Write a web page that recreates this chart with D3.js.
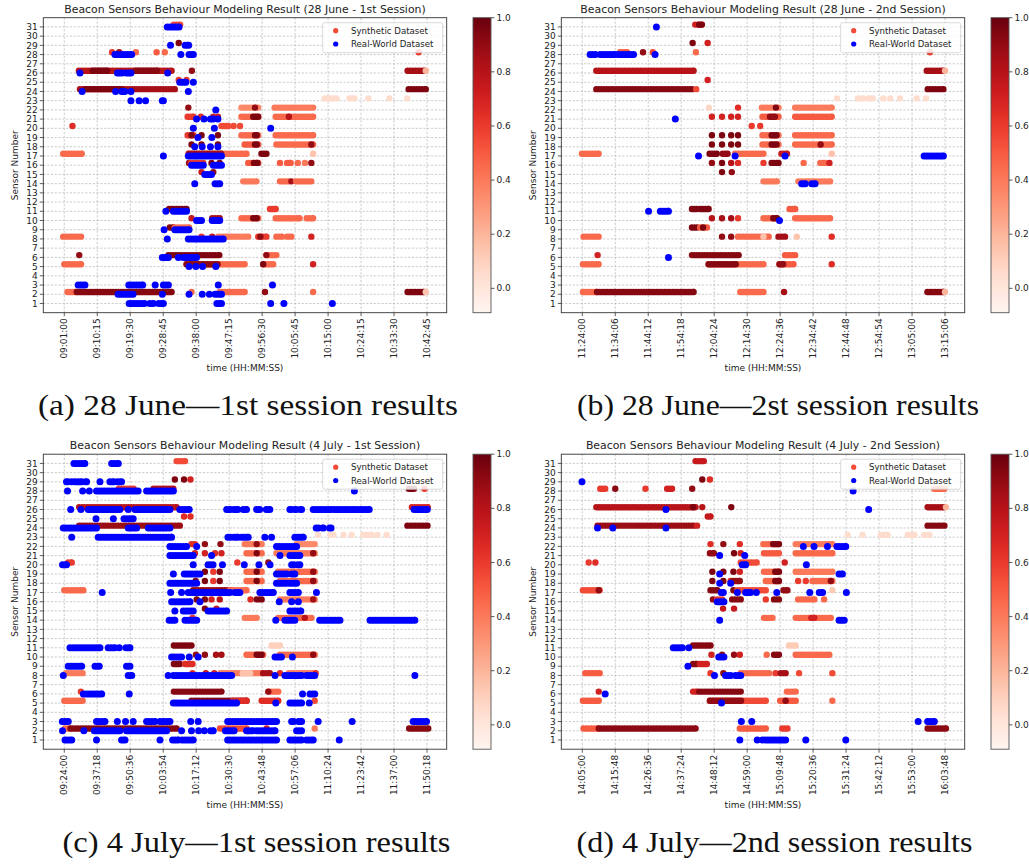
<!DOCTYPE html>
<html>
<head>
<meta charset="utf-8">
<script src="https://cdn.jsdelivr.net/npm/d3@7"></script>
<style>
  body { margin: 0; background: #fff; }
  svg { display: block; }
  text { font-family: "DejaVu Sans", sans-serif; fill: #222; }
  .cap { font-family: "Liberation Serif", "DejaVu Serif", serif; fill: #111; }
</style>
</head>
<body>
<svg id="fig" width="1029" height="865"></svg>
<script>
// ---- data: [sensor, from, to, value] in minutes after the first tick (synthetic)
// ----       [sensor, from, to] for the real-world points
const sensorTicks = [1,2,3,4,5,6,7,8,9,10,11,12,13,14,15,16,17,18,19,20,21,22,23,24,25,26,27,28,29,30,31];
const cbTicks = [0.0, 0.2, 0.4, 0.6, 0.8, 1.0];

const aTicks = ["09:01:00","09:10:15","09:19:30","09:28:45","09:38:00","09:47:15","09:56:30","10:05:45","10:15:00","10:24:15","10:33:30","10:42:45"];
const bTicks = ["11:24:00","11:34:06","11:44:12","11:54:18","12:04:24","12:14:30","12:24:36","12:34:42","12:44:48","12:54:54","13:05:00","13:15:06"];
const cTicks = ["09:24:00","09:37:18","09:50:36","10:03:54","10:17:12","10:30:30","10:43:48","10:57:06","11:10:24","11:23:42","11:37:00","11:50:18"];
const dTicks = ["14:05:00","14:15:48","14:26:36","14:37:24","14:48:12","14:59:00","15:09:48","15:20:36","15:31:24","15:42:12","15:53:00","16:03:48"];

const aSyn = [
  [31,30.7,32.5,0.55],[29,32.1,32.1,0.95],
  [28,13.4,13.4,0.6],[28,15.4,15.4,0.85],[28,20.1,20.1,0.45],[28,25.9,25.9,0.5],[28,28.2,28.2,0.45],[28,99.4,99.4,0.6],
  [26,4.1,30.1,0.8],[26,8,12,0.95],[26,20,26,0.92],[26,35.8,35.8,0.9],[26,96.3,101,0.85],[26,101.4,101.4,0.2],
  [25,32.1,32.1,0.6],[25,34.3,34.3,0.6],
  [24,4.4,31,0.85],[24,6,16,0.95],[24,96.6,101.4,0.95],
  [23,73,76.4,0.05],[23,80,81.4,0.05],[23,85.3,85.3,0.05],[23,91.2,91.2,0.05],[23,96.2,96.2,0.05],
  [22,34.8,34.8,0.9],[22,49.7,54.4,0.35],[22,53.5,53.5,0.9],[22,59,69.8,0.4],
  [21,34.6,36.2,0.6],[21,38.3,38.3,0.65],[21,41.8,41.8,0.7],[21,43.1,43.1,0.7],[21,49.7,54.4,0.45],[21,53,54.4,0.95],[21,59.3,69.8,0.45],[21,63,63,0.8],
  [20,2.3,2.3,0.65],[20,44.1,46,0.55],[20,47.5,47.5,0.55],[20,49.3,49.3,0.55],
  [19,34.6,36.2,0.6],[19,35.7,35.7,0.95],[19,38.5,38.5,0.95],[19,43.1,43.1,0.95],[19,49.7,54.4,0.45],[19,53.5,54,0.95],[19,59.3,69.8,0.45],
  [18,35.7,35.7,0.95],[18,38.5,38.5,0.95],[18,43.1,43.1,0.95],[18,50.6,54.4,0.5],[18,53.5,54,0.95],[18,59.5,69.8,0.45],[18,69.3,69.3,0.9],
  [17,-0.3,4.9,0.45],[17,34.8,51.1,0.45],[17,35,44,0.85],[17,55.3,56.7,0.95],[17,69.8,69.8,0.15],
  [16,35,35,0.9],[16,35.5,39,0.6],[16,41.3,41.3,0.95],[16,43.6,43.6,0.95],[16,51.6,54.4,0.5],[16,53.2,54.2,0.95],[16,60.5,60.5,0.5],[16,62.5,63.5,0.5],[16,65.5,65.5,0.45],[16,67.5,67.5,0.4],[16,69.3,69.3,0.9],
  [15,38.5,38.5,0.75],[15,41.8,41.8,0.9],
  [14,50.2,53.9,0.4],[14,60.5,63,0.45],[14,63.7,63.7,0.85],[14,65,69.3,0.45],
  [11,29.4,34.3,0.95],[11,57.7,59.3,0.6],
  [10,35.7,35.7,0.75],[10,41.5,43.6,0.85],[10,49.7,54.4,0.45],[10,53,54,0.95],[10,59.3,66,0.45],[10,68,69.8,0.45],
  [9,29.6,30.6,0.95],[9,31,35,0.45],
  [8,-0.3,4.7,0.45],[8,38.5,38.5,0.6],[8,41.5,41.5,0.75],[8,43.2,51.6,0.4],[8,54.4,56.7,0.6],[8,55,55,0.9],[8,59.5,61,0.45],[8,62.5,63.7,0.45],[8,69.3,69.3,0.7],
  [6,4.2,4.2,0.9],[6,29.2,43.5,0.95],[6,56.7,59.5,0.45],[6,56.7,56.7,0.9],
  [5,0,4.7,0.45],[5,34.3,50.6,0.45],[5,34.3,43,0.92],[5,55.8,58.6,0.45],[5,55.8,55.8,0.95],[5,69.8,69.8,0.7],
  [2,0.9,3.3,0.45],[2,3.5,30.1,0.93],[2,35.7,35.7,0.45],[2,43.6,50.6,0.45],[2,56.3,56.3,0.9],[2,69.8,69.8,0.45],[2,96.3,101,0.95],[2,101.4,101.4,0.15]
];
const aReal = [
  [31,28.9,32.2],[29,29.8,29.8],[29,33.9,34.9],
  [28,14.2,18.9],[28,32.7,32.7],[28,35,36.2],
  [26,4.4,4.4],[26,14.9,16.2],[26,17.4,18.7],[26,29,29],
  [25,32.4,34.1],[25,36.2,36.2],
  [24,5,5],[24,14.4,14.4],[24,16.1,17],[24,18.7,18.7],[24,34.8,34.8],
  [23,18.7,18.7],[23,21,21],[23,22.8,22.8],[23,27.5,27.8],
  [22,42.5,42.5],[21,37.1,37.1],[21,39.2,39.2],[21,41,41.8],[21,43.1,43.1],
  [20,36.2,36.2],[20,42.1,42.1],[20,57.9,57.9],
  [19,37.5,37.5],[19,41.4,41.4],
  [18,36.6,36.6],[18,38.7,38.7],[18,41,41],[18,43.1,43.1],
  [17,27.8,27.8],[17,34.8,44.1],
  [16,35.7,39],[16,41.8,44.1],[15,39.4,41.3],[14,36.6,36.6],[14,42.3,43.6],
  [11,28.5,28.5],[11,30.6,34.3],[10,37.1,38.5],[10,41.5,43.6],
  [9,28,28],[9,31,35],[8,28.9,28.9],[8,34.8,44.6],
  [6,27.5,29.2],[6,32,32],[6,33.4,37.1],
  [5,35,35],[5,36.9,36.9],[5,38.8,38.8],[5,42.5,42.5],
  [3,3.9,5.8],[3,18.1,22],[3,25.5,25.5],[3,27.8,29.2],[3,43.2,43.2],[3,58.4,58.4],
  [2,15.1,19.3],[2,27.5,27.5],[2,35,35],[2,38.7,38.7],[2,40.7,40.7],[2,42.3,44.1],
  [1,18.2,22.5],[1,24,25],[1,26.5,27.8],[1,42.8,44.1],[1,57.9,57.9],[1,61.6,61.6],[1,75.2,75.2]
];

const bSyn = [
  [31,34.6,36.6,0.7],[31,35.8,36.6,0.95],[29,33.8,33.8,0.95],[29,38.4,38.4,0.7],
  [28,11.6,13.7,0.5],[28,18.6,18.6,0.9],[28,21.6,21.6,0.55],[28,34.8,34.8,0.45],[28,106.5,106.5,0.6],
  [26,4.3,34.1,0.8],[26,105.5,110.6,0.85],[26,111.1,111.1,0.2],
  [25,38.4,38.4,0.7],
  [24,4.3,33.6,0.93],[24,34.9,34.9,0.55],[24,105.8,110.6,0.95],
  [23,78,78,0.05],[23,84.5,86,0.05],[23,87.5,89,0.05],[23,92.2,92.2,0.05],[23,94.3,94.3,0.05],[23,97.3,97.3,0.05],[23,102.4,102.4,0.05],[23,105.3,105.3,0.05],
  [22,38.8,38.8,0.08],[22,47.7,47.7,0.65],[22,55,60.1,0.4],[22,59.3,59.3,0.95],[22,65.2,76.4,0.4],
  [21,39.7,39.7,0.7],[21,42.8,42.8,0.7],[21,45.6,45.6,0.7],[21,47.7,47.7,0.7],[21,55.2,60.1,0.5],[21,57.5,59,0.9],[21,65.2,76.4,0.5],
  [20,51.9,51.9,0.6],[20,54.5,54.5,0.6],
  [19,39.7,39.7,0.95],[19,42.8,42.8,0.95],[19,45.6,45.6,0.95],[19,47.7,47.7,0.95],[19,55.2,60.1,0.45],[19,58,59.5,0.95],[19,65.2,76.4,0.45],
  [18,39.7,39.7,0.95],[18,42.8,42.8,0.95],[18,45.6,45.6,0.95],[18,47.7,47.7,0.95],[18,55.2,60.1,0.45],[18,58,59.5,0.95],[18,65.2,76.4,0.45],[18,73,73,0.9],
  [17,-0.1,5,0.45],[17,39,41.2,0.95],[17,43,44.5,0.9],[17,46.8,55.5,0.45],[17,61,62.7,0.75],[17,76.4,76.4,0.15],
  [16,39.7,39.7,0.9],[16,42.8,42.8,0.95],[16,45.6,45.6,0.8],[16,47.7,47.7,0.65],[16,55.5,55.5,0.6],[16,58,60.1,0.95],[16,67.8,67.8,0.45],[16,72.9,74.4,0.45],[16,75.7,75.7,0.7],
  [15,42.8,42.8,0.95],[15,45.8,45.8,0.9],
  [14,55.5,59.6,0.4],[14,66.2,75.9,0.4],
  [11,33.6,35.1,0.95],[11,36.1,38.7,0.95],[11,63.5,65.2,0.5],
  [10,39.7,39.7,0.8],[10,42.8,42.8,0.85],[10,45.6,45.6,0.85],[10,47.7,47.7,0.6],[10,55.5,59.6,0.45],[10,58.5,59.6,0.95],[10,65.2,75.9,0.45],
  [9,33.6,35.1,0.95],[9,36.1,38.2,0.5],[9,37,37,0.95],
  [8,0.4,5,0.45],[8,42.8,42.8,0.9],[8,45.6,45.6,0.9],[8,47.7,57.1,0.45],[8,55.5,55.5,0.15],[8,60.1,62.1,0.85],[8,65.7,65.7,0.15],[8,76.4,76.4,0.65],
  [6,4.7,4.7,0.7],[6,33.6,47.9,0.93],[6,62.1,65.2,0.5],
  [5,0.2,5,0.45],[5,38.7,55.5,0.45],[5,38.7,47,0.93],[5,60.4,64.7,0.5],[5,60.4,61.5,0.9],[5,76.4,76.4,0.65],
  [2,0.2,4.5,0.45],[2,4.5,34.1,0.93],[2,48.4,55.5,0.45],[2,61.8,61.8,0.85],[2,105.7,110.6,0.93],[2,111.1,111.1,0.2]
];
const bReal = [
  [31,22.7,22.7],[28,2.4,4],[28,5.5,10],[28,11,15.7],[28,22.3,22.3],
  [21,28.5,28.5],[17,35.6,35.6],[17,46.8,46.8],[17,62.1,62.1],[17,104.7,110.6],
  [14,67.2,68.3],[14,70.3,71.3],[11,20.3,20.3],[11,23.9,26.4],[10,60.4,60.4],[6,26.4,26.4]
];

const cSyn = [
  [31,45.3,48.7,0.55],[29,44.6,44.6,0.95],[29,48.3,48.3,0.95],[29,50.9,50.9,0.7],
  [28,22,28,0.6],[28,36,44,0.8],[28,139,141,0.95],[28,145.3,145.3,0.6],
  [26,6,45.3,0.8],[26,140.2,146.6,0.7],
  [25,48.3,48.3,0.65],[25,50.9,50.9,0.65],
  [24,6,46.6,0.88],[24,138.4,146.5,0.95],
  [23,102.3,102.3,0.05],[23,107.3,108.6,0.05],[23,112.6,112.6,0.05],[23,115.9,115.9,0.05],[23,120.6,124,0.05],[23,126.3,126.3,0.05],[23,130,130,0.05],
  [22,51.3,52.7,0.65],[22,56.7,56.7,0.9],[22,63,63,0.9],[22,72.8,79.6,0.4],[22,77.6,77.6,0.9],[22,93.7,101,0.35],
  [21,52.7,52.7,0.7],[21,56.7,56.7,0.7],[21,60.8,60.8,0.65],[21,63.4,63.4,0.7],[21,73.5,79.6,0.45],[21,77.6,77.6,0.95],[21,85.6,101,0.4],[21,100.4,100.4,0.9],
  [20,1.6,3,0.6],[20,69.8,69.8,0.6],[20,82.3,82.3,0.9],
  [19,56.7,56.7,0.95],[19,60.1,60.1,0.6],[19,62.7,62.7,0.95],[19,73.5,79.6,0.45],[19,77.6,77.6,0.95],[19,86.3,101,0.45],[19,100.4,100.4,0.9],
  [18,53,53,0.95],[18,56.7,56.7,0.95],[18,60.1,60.1,0.6],[18,62.7,62.7,0.95],[18,73.5,79.6,0.45],[18,77.6,77.6,0.95],[18,87,101,0.45],[18,100.4,100.4,0.9],
  [17,0,7.7,0.45],[17,52,66.8,0.9],[17,66.8,73.5,0.45],
  [16,53.4,53.4,0.95],[16,56.7,56.7,0.95],[16,59.4,59.4,0.7],[16,62.7,62.7,0.8],[16,75.1,75.1,0.65],[16,77.6,79.6,0.95],[16,87,101,0.4],[16,100.4,100.4,0.85],
  [15,56.7,56.7,0.95],[15,61.4,61.4,0.7],
  [14,51.7,51.7,0.6],[14,72.8,77.6,0.4],[14,86.3,99.7,0.45],[14,97,97,0.8],
  [11,44.2,51.3,0.95],[11,83.6,87,0.1],
  [10,53.1,53.1,0.9],[10,56.7,56.7,0.9],[10,61.2,61.2,0.85],[10,63.4,63.4,0.85],[10,73.5,80.2,0.45],[10,77.6,79.6,0.95],[10,87,101,0.45],[10,100.4,100.4,0.9],
  [9,44.2,46.6,0.95],[9,48.7,51.7,0.65],
  [8,0.7,7.4,0.4],[8,51.7,51.7,0.65],[8,57.1,57.1,0.75],[8,60.5,60.5,0.7],[8,63,79.6,0.4],[8,72,75,0.15],[8,80.2,82.9,0.85],[8,87,87,0.65],[8,90.6,101,0.4],[8,101.4,101.4,0.65],
  [6,6.7,6.7,0.6],[6,44.2,63.4,0.93],[6,82.3,86.3,0.45],[6,82.3,82.3,0.9],
  [5,0,7.4,0.45],[5,51.3,73.5,0.93],[5,68,73.5,0.65],[5,79.6,86.3,0.65],[5,101,101,0.55],
  [2,0.3,2.5,0.45],[2,2.5,45.3,0.93],[2,62.8,73.5,0.55],[2,81.6,81.6,0.7],[2,101,101,0.4],[2,139.1,146.8,0.93]
];
const cReal = [
  [31,3.9,8.3],[31,19.1,21.8],
  [29,0.9,1.5],[29,3,3],[29,4.3,7],[29,8.6,9],[29,14.4,14.4],[29,18.4,20],[29,21.5,23.1],
  [28,1.3,1.3],[28,7.4,7.4],[28,10.1,10.1],[28,13,29.8],[28,33.2,44],[28,117,117],
  [26,2.6,2.6],[26,6.7,6.7],[26,9.7,22.4],[26,25.8,25.8],[26,28.5,42.6],[26,46.6,50.4],[26,65.5,67],[26,68.5,70],[26,72.2,73.5],[26,77.6,78.8],[26,81.5,82.9],[26,91,91.5],[26,93,93.5],[26,95.2,95.7],[26,100.4,107.6],[26,108.9,123],[26,141.1,146.4],
  [25,12.8,12.8],[25,19.8,19.8],[25,24.1,27.8],
  [24,-0.4,13],[24,25.8,29.2],[24,33.9,42.6],[24,101.6,102.5],[24,104.2,104.5],[24,107,107.6],
  [23,3,3],[23,13.7,43.3],[23,66,67],[23,68.5,70],[23,71.5,74.2],[23,80.9,80.9],[23,83.6,83.6],[23,93,96.4],
  [22,42.6,49.3],[22,53.4,53.4],[22,85.6,93.7],
  [21,42.6,52],[21,59.4,59.4],[21,87,87],[21,91,95],
  [20,-0.7,0.9],[20,52,52],[20,58,60],[20,63.8,63.8],[20,72.6,72.6],[20,78.5,78.5],[20,83,83],[20,91.7,92.5],[20,94.2,95],
  [19,44,44],[19,48.4,54.7],[19,85.6,89.7],[19,91.7,93],
  [18,42.6,53.4],[18,85.6,89.7],[18,91,93.7],
  [17,15.3,15.3],[17,42.9,42.9],[17,47.3,47.3],[17,50,66.8],[17,68.8,70.8],[17,78.9,84.3],[17,91,94.4],[17,101.7,101.7],
  [16,43.3,50.7],[16,54.7,54.7],[16,86.7,86.7],[16,91.7,91.7],[16,94.4,94.4],
  [15,44.6,44.6],[15,48,52],[15,58,65.5],[15,91,95.4],
  [14,42.3,44.6],[14,48.7,53.4],[14,85.3,85.3],[14,89,93],[14,103,111.2],[14,123.3,141.4],
  [11,2.3,14.4],[11,17.7,20.4],[11,22.2,22.2],[11,24.9,26.5],
  [10,43.3,47.3],[10,50.4,50.4],[10,54,54],[10,85,87.6],[10,92,92],
  [9,1.6,7],[9,12.4,14.1],[9,25.1,26.5],
  [8,-0.4,-0.4],[8,25.8,27.2],[8,41.9,41.9],[8,44,67.5],[8,85,85],[8,89,95.7],[8,97.7,101],[8,141.4,141.4],
  [6,7.7,15.1],[6,26.2,26.2],[6,96.1,96.1],[6,99.1,101],
  [5,44,69.5],[5,85.3,85.3],[5,91,95.7],[5,98.8,98.8],
  [3,-0.8,1.6],[3,13,16.4],[3,21.4,21.4],[3,24.7,24.7],[3,27.8,27.8],[3,33.2,36.6],[3,38.6,42.6],[3,51,51],[3,54,54],[3,65.9,85.6],[3,91.7,92.5],[3,94.5,95.7],[3,102.4,102.4],[3,116.1,116.1],[3,140.7,146.1],
  [2,-0.7,-0.7],[2,7.9,7.9],[2,12.1,22.4],[2,25.1,41.3],[2,47.3,47.3],[2,51.3,51.3],[2,54.2,54.2],[2,56.5,56.5],[2,59,60.1],[2,65,68.5],[2,73.5,76],[2,77.5,85],[2,93.7,95.7],
  [1,0.3,3],[1,13,13],[1,23.1,24.5],[1,38.6,38.6],[1,43.7,46],[1,47.5,52],[1,65.9,85.6],[1,91,95.7],[1,97.7,100.4],[1,110.9,110.9]
];

const dSyn = [
  [31,37.1,39.8,0.75],[29,39.3,39.3,0.95],[29,41.8,41.8,0.65],
  [28,5.9,7.5,0.6],[28,10.8,10.8,0.92],[28,20.7,20.7,0.6],[28,27.8,29.4,0.7],[28,36,36,0.9],[28,115.3,118.6,0.45],
  [26,4.6,37.1,0.8],[26,36.3,36.3,0.95],[26,39.3,39.3,0.8],[26,48.8,48.8,0.95],[26,113.1,118.6,0.85],[26,119.1,119.1,0.2],
  [25,41.1,42,0.75],
  [24,5,36.5,0.88],[24,37.6,37.6,0.7],[24,113.1,118.6,0.93],
  [23,86.9,86.9,0.05],[23,91.8,91.8,0.05],[23,97.8,100,0.05],[23,106.6,108.8,0.05],[23,112,113.7,0.05],
  [22,42,42,0.65],[22,46.2,46.2,0.9],[22,51.6,51.6,0.65],[22,59.3,64.4,0.45],[22,62.5,64.4,0.95],[22,69.9,81.9,0.4],
  [21,41.8,43.1,0.9],[21,49.7,49.7,0.95],[21,51.9,51.9,0.7],[21,59.5,64.4,0.5],[21,69.9,81.9,0.45],
  [20,2.1,2.1,0.6],[20,4.3,4.3,0.65],[20,51.9,57.1,0.55],[20,66.3,66.3,0.7],
  [19,42.6,42.6,0.95],[19,46.2,46.2,0.95],[19,49.5,49.5,0.95],[19,51.6,51.6,0.7],[19,59.5,64.4,0.45],[19,63.2,64.4,0.95],[19,69.9,81.9,0.4],
  [18,42.6,42.6,0.95],[18,46.2,46.2,0.95],[18,48.6,48.6,0.7],[18,49.5,51.6,0.9],[18,60.1,64.4,0.45],[18,63.2,64.4,0.95],[18,70.7,70.7,0.6],[18,73.2,73.2,0.6],[18,75.4,81.9,0.45],[18,81.4,81.4,0.9],
  [17,0.2,5.7,0.55],[17,5.4,5.4,0.9],[17,42,44.2,0.93],[17,49.5,49.5,0.95],[17,50.8,60.1,0.55],[17,65.9,67.2,0.9],[17,81.9,81.9,0.12],
  [16,42.8,42.8,0.9],[16,44.2,45.8,0.6],[16,49.1,51.9,0.93],[16,60.1,60.1,0.6],[16,62.8,64.4,0.93],[16,70.7,76,0.45],[16,79.2,79.2,0.45],
  [15,46.1,46.1,0.75],[15,49.7,49.7,0.75],
  [14,59.5,62.3,0.45],[14,69.9,81.4,0.45],[14,75,76,0.7],
  [11,36.3,42,0.93],[11,67.7,69.9,0.12],
  [10,42.3,42.3,0.7],[10,45.8,45.8,0.9],[10,49.7,49.7,0.9],[10,51.6,51.6,0.7],[10,60.4,60.4,0.45],[10,62.8,64.4,0.93],[10,69.9,80.9,0.45],
  [9,36.3,37.6,0.93],[9,38.5,40.8,0.7],
  [8,1,5.7,0.5],[8,42,42,0.6],[8,46.2,46.2,0.9],[8,51.9,61.2,0.45],[8,63.3,63.3,0.6],[8,65,66.6,0.85],[8,71,71,0.55],[8,81.9,81.9,0.55],
  [6,5.4,5.4,0.7],[6,36.3,37.5,0.7],[6,38.3,51.9,0.93],[6,67,69.9,0.45],
  [5,0.2,5.4,0.5],[5,41.8,60.1,0.55],[5,41.8,52,0.9],[5,64.8,69.9,0.5],[5,66.6,66.6,0.9],[5,81.9,81.9,0.45],
  [2,0.4,5.4,0.5],[2,5.4,37.1,0.92],[2,51.6,60.1,0.5],[2,65.5,67.2,0.6],[2,113.1,119.1,0.92]
];
const dReal = [
  [29,-0.1,-0.1],[28,88.7,88.7],[26,27.4,27.4],[26,93.8,93.8],
  [24,5,5],[24,10,10],[24,27.4,27.4],
  [22,72.4,72.4],[22,75.9,75.9],[22,80.3,80.3],[22,83.4,86.3],
  [21,45,45],[21,53.2,53.2],[20,52.4,53.5],[20,73.4,73.4],
  [19,45,45],[19,84.1,85.2],[18,45,45],[18,48.6,48.6],
  [17,45.5,46.2],[17,50.8,50.8],[17,53.5,55.1],[17,57,57],[17,63.7,63.7],[17,74.5,74.5],[17,77.6,78.7],[17,86.5,86.5],
  [16,44.2,46.4],[14,45,45],[14,84.1,85.8],
  [11,29.8,32.8],[11,34.9,34.9],[10,44.7,46.4],[9,34.6,34.6],
  [8,43.3,43.3],[8,46.9,48.6],[8,50.2,51.9],[6,7.5,7.5],[5,45.6,45.6],
  [3,52.1,52.1],[3,55.5,55.5],[3,110,110],[3,113.1,115.3],
  [1,51.6,51.6],[1,57.3,57.3],[1,59,66.6],[1,73.2,73.2],[1,86.3,86.3]
];

const panels = [
  {title: "Beacon Sensors Behaviour Modeling Result (28 June - 1st Session)", ticks: aTicks, syn: aSyn, real: aReal, dx: 0, dy: 0,
   caption: "(a) 28 June\u20141st session results", capX: 248, capW: 420},
  {title: "Beacon Sensors Behaviour Modeling Result (28 June - 2nd Session)", ticks: bTicks, syn: bSyn, real: bReal, dx: 518, dy: 0,
   caption: "(b) 28 June\u20142st session results", capX: 260, capW: 402},
  {title: "Beacon Sensors Behaviour Modeling Result (4 July - 1st Session)", ticks: cTicks, syn: cSyn, real: cReal, dx: 0, dy: 436.5,
   caption: "(c) 4 July\u20141st session results", capX: 256.5, capW: 388},
  {title: "Beacon Sensors Behaviour Modeling Result (4 July - 2nd Session)", ticks: dTicks, syn: dSyn, real: dReal, dx: 518, dy: 436.5,
   caption: "(d) 4 July\u20142nd session results", capX: 256.5, capW: 396}
];

// ---- layout (per panel, relative to its origin)
const L = 43.3, T = 17.7, R = 446.7, B = 312.7;
const CBX = 473, CBW = 18;
const SYN_R = 3.2, REAL_R = 3.5, SYN_OFF = 0.25;

const color = d3.scaleSequential(d3.interpolateReds).domain([-0.09, 1]);
const toMin = s => { const p = s.split(":").map(Number); return p[0]*60 + p[1] + p[2]/60; };

const svg = d3.select("#fig");
const defs = svg.append("defs");
const grad = defs.append("linearGradient").attr("id", "cbgrad")
  .attr("x1", 0).attr("y1", 1).attr("x2", 0).attr("y2", 0);
d3.range(0, 1.0001, 0.05).forEach(f => {
  grad.append("stop").attr("offset", f).attr("stop-color", color(-0.09 + f*1.09));
});

panels.forEach(p => {
  const g = svg.append("g").attr("transform", `translate(${p.dx},${p.dy})`);
  const tk = p.ticks.map(toMin);
  const step = tk[1] - tk[0];
  const start = tk[0];
  const x = d3.scaleLinear().domain([tk[0] - 0.636*step, tk[tk.length-1] + 0.597*step]).range([L, R]);
  const y = d3.scaleLinear().domain([0, 32]).range([B, T]);

  // grid
  const grid = g.append("g").attr("stroke", "#a8a8a8").attr("stroke-width", 0.6).attr("stroke-dasharray", "2.2,1.6");
  grid.selectAll(null).data(tk).join("line")
    .attr("x1", d => x(d)).attr("x2", d => x(d)).attr("y1", T).attr("y2", B);
  grid.selectAll(null).data(sensorTicks).join("line")
    .attr("x1", L).attr("x2", R).attr("y1", d => y(d)).attr("y2", d => y(d));

  // points: a run of overlapping markers is drawn as a dotted round-cap stroke
  const mark = (rows, off, r, fill) => {
    g.append("g").attr("fill", "none").attr("stroke-linecap", "round")
      .selectAll(null).data(rows).join("path")
      .attr("d", d => {
        const x0 = x(start + d[1]), x1 = x(start + d[2]), yy = y(d[0] + off);
        return `M${x0},${yy}H${x1 + 0.01}M${x1},${yy}h0.01`;
      })
      .attr("stroke", fill)
      .attr("stroke-dasharray", "0.01,2.6")
      .attr("stroke-width", 2*r);
  };
  mark(p.syn, SYN_OFF, SYN_R, d => color(d[3]));
  mark(p.real, 0, REAL_R, "#0000ff");

  // frame
  g.append("rect").attr("x", L).attr("y", T).attr("width", R - L).attr("height", B - T)
    .attr("fill", "none").attr("stroke", "#333").attr("stroke-width", 0.9);

  // x ticks
  const xt = g.append("g");
  xt.selectAll(null).data(tk).join("line")
    .attr("x1", d => x(d)).attr("x2", d => x(d)).attr("y1", B).attr("y2", B + 3.5)
    .attr("stroke", "#333").attr("stroke-width", 0.8);
  xt.selectAll(null).data(p.ticks).join("text")
    .attr("transform", (d, i) => `translate(${x(tk[i])},${B + 5.5}) rotate(-90)`)
    .attr("text-anchor", "end").attr("dy", "0.35em").attr("font-size", 9)
    .text(d => d);

  // y ticks
  const yt = g.append("g");
  yt.selectAll(null).data(sensorTicks).join("line")
    .attr("x1", L - 3.5).attr("x2", L).attr("y1", d => y(d)).attr("y2", d => y(d))
    .attr("stroke", "#333").attr("stroke-width", 0.8);
  yt.selectAll(null).data(sensorTicks).join("text")
    .attr("x", L - 5.5).attr("y", d => y(d)).attr("dy", "0.35em")
    .attr("text-anchor", "end").attr("font-size", 9).text(d => d);

  // labels
  g.append("text").attr("x", (L + R)/2).attr("y", 12.5).attr("text-anchor", "middle")
    .attr("font-size", 10.9).text(p.title);
  g.append("text").attr("x", (L + R)/2).attr("y", 371).attr("text-anchor", "middle")
    .attr("font-size", 9).text("time (HH:MM:SS)");
  g.append("text").attr("transform", `translate(15,${(T + B)/2}) rotate(-90)`)
    .attr("text-anchor", "middle").attr("dy", "0.35em").attr("font-size", 9).text("Sensor Number");

  // legend
  const lg = g.append("g");
  lg.append("rect").attr("x", 322.7).attr("y", 22.7).attr("width", 120).attr("height", 30).attr("rx", 2)
    .attr("fill", "#fff").attr("fill-opacity", 0.85).attr("stroke", "#d0d0d0").attr("stroke-width", 0.8);
  lg.append("circle").attr("cx", 335.7).attr("cy", 30.7).attr("r", 2.6).attr("fill", color(0.55));
  lg.append("circle").attr("cx", 335.7).attr("cy", 44).attr("r", 2.6).attr("fill", "#0000ff");
  lg.append("text").attr("x", 351).attr("y", 30.7).attr("dy", "0.35em").attr("font-size", 8.6).text("Synthetic Dataset");
  lg.append("text").attr("x", 351).attr("y", 44).attr("dy", "0.35em").attr("font-size", 8.6).text("Real-World Dataset");

  // colorbar
  const cy = d3.scaleLinear().domain([-0.09, 1]).range([B, T]);
  g.append("rect").attr("x", CBX).attr("y", T).attr("width", CBW).attr("height", B - T)
    .attr("fill", "url(#cbgrad)").attr("stroke", "#555").attr("stroke-width", 0.9);
  g.selectAll(null).data(cbTicks).join("line")
    .attr("x1", CBX + CBW).attr("x2", CBX + CBW + 3.5).attr("y1", d => cy(d)).attr("y2", d => cy(d))
    .attr("stroke", "#333").attr("stroke-width", 0.8);
  g.selectAll(null).data(cbTicks).join("text")
    .attr("x", CBX + CBW + 5.5).attr("y", d => cy(d)).attr("dy", "0.35em").attr("font-size", 9)
    .text(d => d.toFixed(1));

  // caption
  g.append("text").attr("class", "cap").attr("x", p.capX).attr("y", 415).attr("text-anchor", "middle")
    .attr("font-size", 29).attr("textLength", p.capW).attr("lengthAdjust", "spacingAndGlyphs")
    .text(p.caption);
});
</script>
</body>
</html>
